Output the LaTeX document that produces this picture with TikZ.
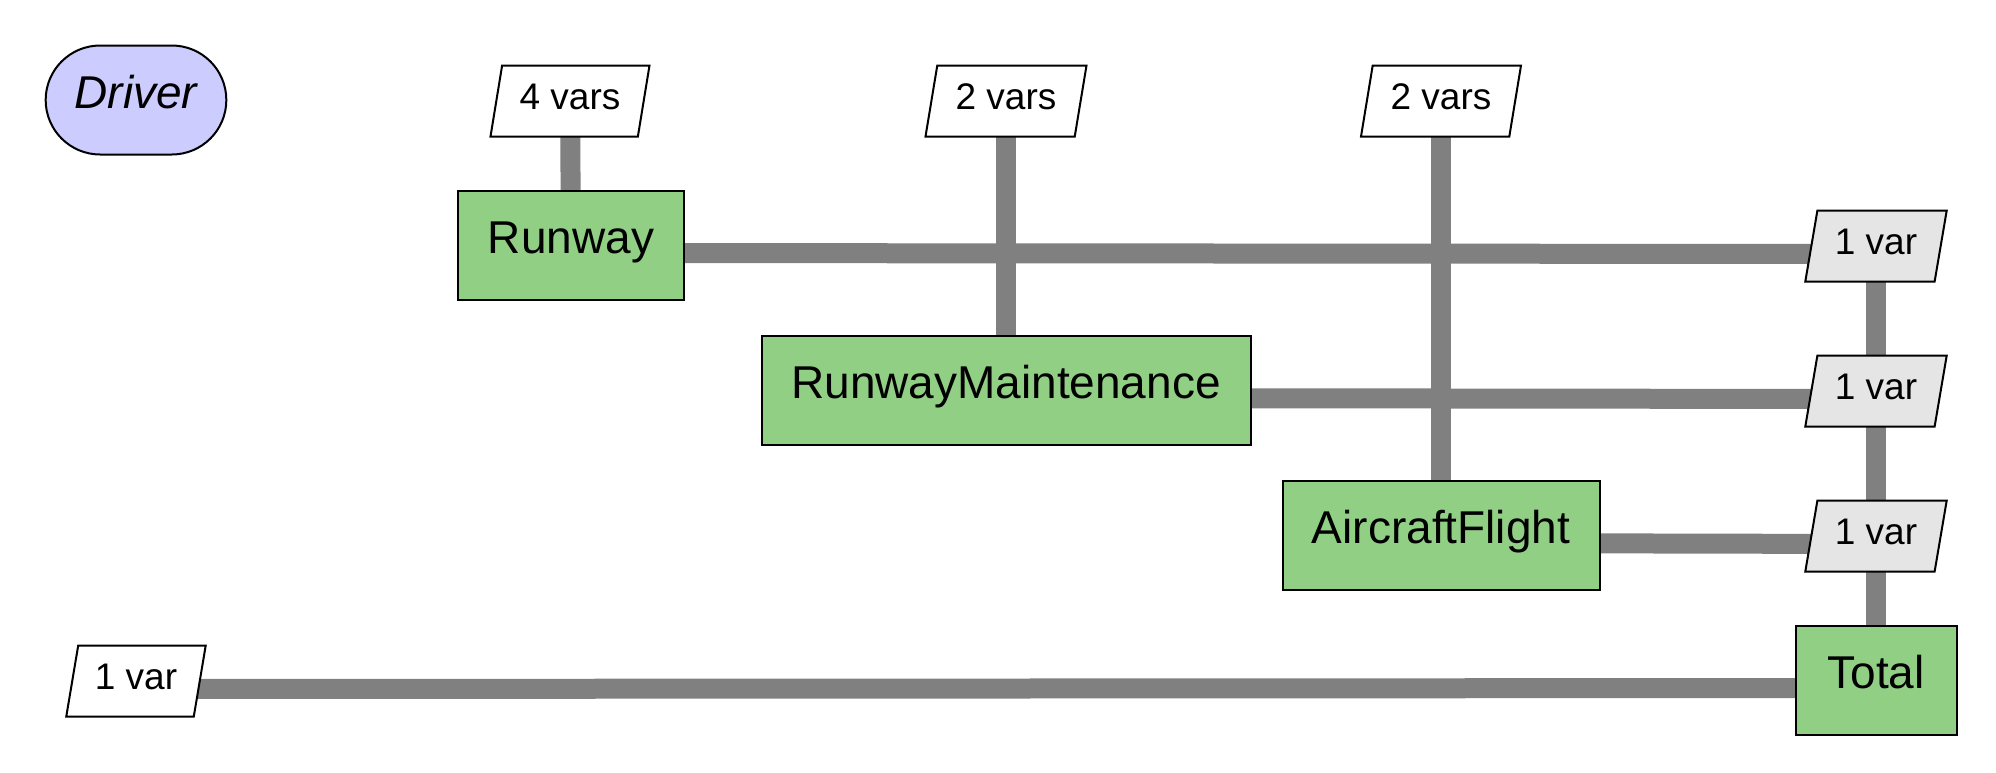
\documentclass[tikz,border=0pt]{standalone}
\usepackage{fontspec}
\setmainfont{Liberation Sans}
\usepackage{xcolor}
\usetikzlibrary{shapes.geometric,shapes.misc,backgrounds}
\definecolor{compgreen}{RGB}{145,207,133}
\definecolor{drvblue}{RGB}{204,204,255}
\definecolor{outgray}{RGB}{229,229,229}
\definecolor{pipegray}{RGB}{128,128,128}
\tikzset{
  compbox/.style={draw, line width=1pt, fill=compgreen, minimum height=54.5pt, inner sep=4pt, text height=16.5pt, text depth=8pt, font=\fontsize{23}{27}\selectfont},
  varbox/.style={draw, line width=1pt, fill=white, trapezium, trapezium left angle=78, trapezium right angle=102, trapezium stretches=true, minimum height=35.5pt, inner sep=2pt, text height=13.3pt, text depth=4.6pt, font=\fontsize{18.5}{22}\selectfont},
  outvar/.style={varbox, fill=outgray},
  drvbox/.style={draw, line width=1pt, fill=drvblue, rounded rectangle, minimum width=97pt, minimum height=54.5pt, text height=16.5pt, text depth=8pt, font=\fontsize{23}{27}\selectfont\itshape},
  pipe/.style={draw=pipegray, line width=10pt}
}

\begin{document}
\begin{tikzpicture}[x=0.5pt, y=-0.5pt]
\useasboundingbox (0,0) rectangle (1996,772);
\node[drvbox] (driver) at (136,100) {Driver};

\node[varbox, minimum width=79.5pt] (in_runway) at (570,101) {4 vars};
\node[varbox, minimum width=80.5pt] (in_maint) at (1006,101) {2 vars};
\node[varbox, minimum width=80pt] (in_flight) at (1441,101) {2 vars};

\node[compbox, minimum width=113pt] (runway) at (571,245) {Runway};
\node[compbox, minimum width=244.5pt] (maint) at (1006,390) {RunwayMaintenance};
\node[compbox, minimum width=158.5pt] (flight) at (1441,535) {AircraftFlight};
\node[compbox, minimum width=80.5pt] (total) at (1876,680) {Total};

\node[outvar, minimum width=71pt] (out_runway) at (1876,246) {1 var};
\node[outvar, minimum width=71pt] (out_maint) at (1876,391) {1 var};
\node[outvar, minimum width=71pt] (out_flight) at (1876,536) {1 var};
\node[varbox, minimum width=70pt] (in_total) at (136,681) {1 var};

% connections
\begin{scope}[on background layer]
\draw[pipe] (in_runway.center) -- (runway.center);
\draw[pipe] (in_maint.center) -- (maint.center);
\draw[pipe] (in_flight.center) -- (flight.center);
\draw[pipe] ([yshift=-4pt]runway.center) -- ([yshift=-4pt]out_runway.center);
\draw[pipe] ([yshift=-4pt]maint.center) -- ([yshift=-4pt]out_maint.center);
\draw[pipe] ([yshift=-4pt]flight.center) -- ([yshift=-4pt]out_flight.center);
\draw[pipe] (out_runway.center) -- (total.center);
\draw[pipe] ([yshift=-4pt]in_total.center) -- ([yshift=-4pt]total.center);
\end{scope}
\end{tikzpicture}
\end{document}
